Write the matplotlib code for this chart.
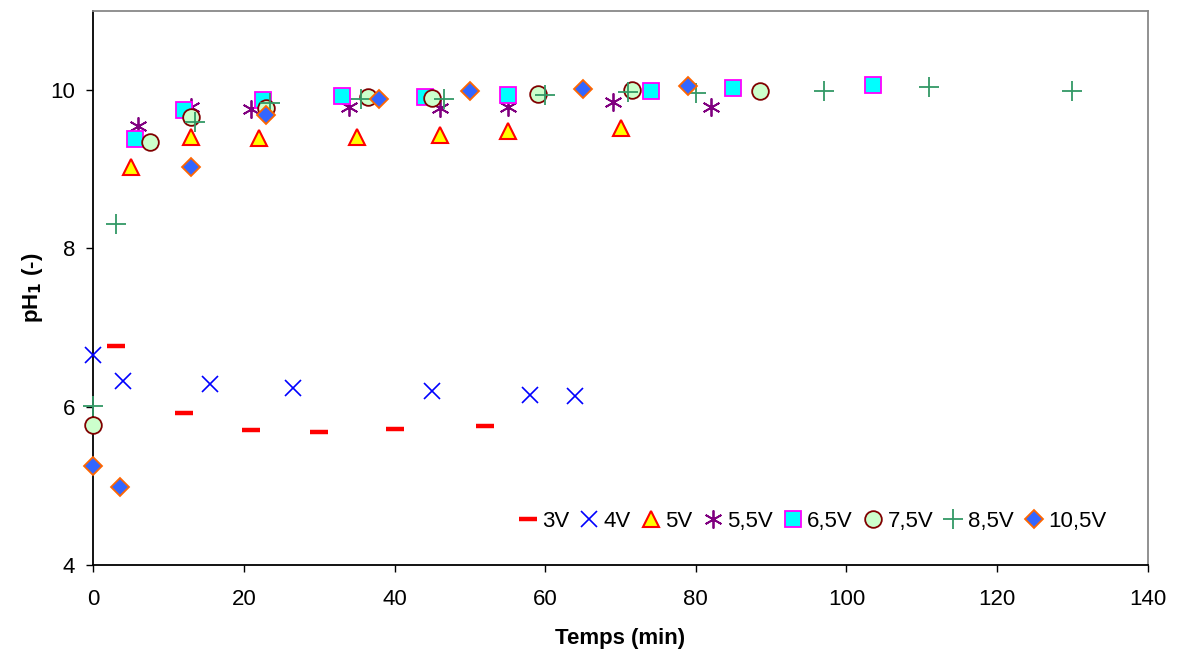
import numpy as np
import matplotlib
matplotlib.use('Agg')
import matplotlib.pyplot as plt

# --------------- data ---------------------------------------------
t_3V = [3, 12, 21, 30, 40, 52]
ph_3V = [6.76, 5.92, 5.70, 5.68, 5.72, 5.76]

t_4V = [0, 4, 15.5, 26.5, 45, 58, 64]
ph_4V = [6.65, 6.33, 6.29, 6.24, 6.20, 6.15, 6.14]

t_5V = [5, 13, 22, 35, 46, 55, 70]
ph_5V = [9.02, 9.40, 9.39, 9.40, 9.43, 9.48, 9.52]

t_55V = [6, 13, 21, 34, 46, 55, 69, 82]
ph_55V = [9.55, 9.79, 9.76, 9.78, 9.77, 9.79, 9.85, 9.79]

t_65V = [5.5, 12, 22.5, 33, 44, 55, 74, 85, 103.5]
ph_65V = [9.38, 9.74, 9.87, 9.92, 9.91, 9.94, 9.99, 10.03, 10.06]

t_75V = [0, 7.5, 13, 23, 36.5, 45, 59, 71.5, 88.5]
ph_75V = [5.77, 9.34, 9.66, 9.77, 9.91, 9.90, 9.95, 10.0, 9.99]

t_85V = [0, 3, 13.5, 23.5, 35.5, 46.5, 60, 71, 80, 97, 111, 130]
ph_85V = [6.01, 8.31, 9.59, 9.84, 9.88, 9.89, 9.94, 9.97, 9.96, 9.99, 10.04, 9.99]

t_105V = [0, 3.5, 13, 23, 38, 50, 65, 79]
ph_105V = [5.25, 4.99, 9.03, 9.68, 9.89, 9.98, 10.01, 10.05]

labels = ['3V', '4V', '5V', '5,5V', '6,5V', '7,5V', '8,5V', '10,5V']

# --------------- plot setup --------------------------
params = {'font.family': ['Liberation Sans', 'DejaVu Sans'],
          'font.size': 16,
          'xtick.labelsize': 16,
          'ytick.labelsize': 16,
          'legend.fontsize': 16}
plt.rcParams.update(params)

fig = plt.figure(figsize=(11.79, 6.57), dpi=100)
ax = fig.add_axes([0.0791, 0.140, 0.8944, 0.8437])

series = [
    (t_3V, ph_3V, dict(marker='_', color='#FF0000', ms=13, mew=3.2)),
    (t_4V, ph_4V, dict(marker='x', color='#0000FF', ms=12, mew=1.2)),
    (t_5V, ph_5V, dict(marker='^', mfc='#FFFF00', mec='#FF0000', ms=12, mew=1.5)),
    (t_55V, ph_55V, dict(marker=(6, 2, 0), color='#800080', ms=13, mew=1.3)),
    (t_65V, ph_65V, dict(marker='s', mfc='#00FFFF', mec='#FF00FF', ms=11, mew=1.3)),
    (t_75V, ph_75V, dict(marker='o', mfc='#CCFFCC', mec='#800000', ms=12, mew=1.3)),
    (t_85V, ph_85V, dict(marker='+', color='#339966', ms=14, mew=1.3)),
    (t_105V, ph_105V, dict(marker='D', mfc='#3366FF', mec='#FF6600', ms=9, mew=1.3)),
]

for (t, ph, style), lab in zip(series, labels):
    ax.plot(t, ph, linestyle='none', label=lab, clip_on=False, zorder=3, **style)

ax.set_xlim(0, 140)
ax.set_ylim(4, 11)
ax.set_xticks(np.arange(0, 141, 20))
ax.set_yticks([4, 6, 8, 10])

# spines like the Excel original: black left/bottom, grey top/right
for s in ['left', 'bottom']:
    ax.spines[s].set_color('black')
    ax.spines[s].set_linewidth(1.3)
for s in ['top', 'right']:
    ax.spines[s].set_color('#888888')
    ax.spines[s].set_linewidth(1.3)
ax.tick_params(axis='x', direction='out', length=5, width=1, pad=12)
ax.tick_params(axis='y', direction='out', length=5, width=1, pad=8)

ax.set_xlabel('Temps (min)', fontweight='bold', labelpad=13)
ax.set_ylabel('pH$_\\mathbf{1}$ (-)', fontweight='bold', labelpad=4)

ax.legend(loc='center', bbox_to_anchor=(0.681, 0.079), ncol=8, frameon=False,
          handlelength=1.0, handletextpad=0.15, columnspacing=0.4,
          borderpad=0.1)

fig.savefig('out.png', dpi=100)
